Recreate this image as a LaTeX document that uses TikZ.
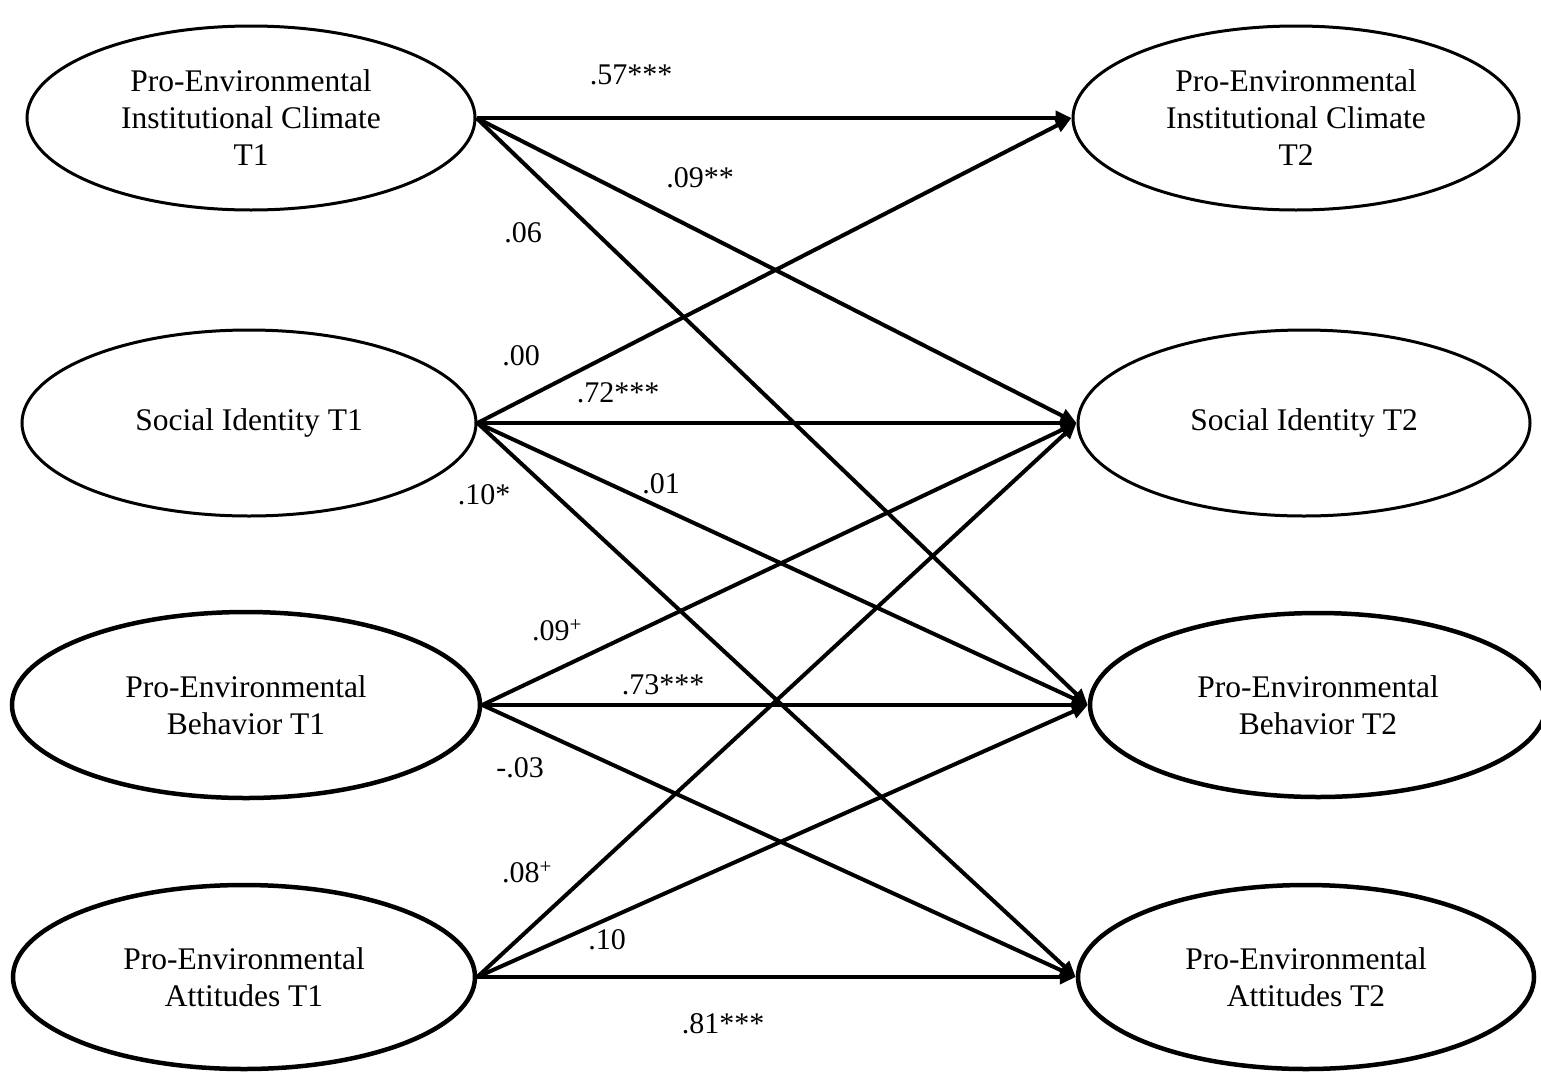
\documentclass[tikz,border=0pt]{standalone}
\usepackage{fontspec}
\setmainfont{Liberation Serif}
\usetikzlibrary{shapes.geometric,arrows.meta}
\begin{document}
\begin{tikzpicture}[x=1pt,y=-1pt,
  latA/.style={ellipse, draw, line width=3pt, inner sep=0pt, align=center,
    font=\fontsize{31.5}{37}\selectfont},
  latB/.style={latA, line width=4.5pt},
  path/.style={line width=4pt, -{Triangle[length=16pt,width=14pt]}},
  coef/.style={inner sep=0pt, font=\fontsize{30}{36}\selectfont}]
\useasboundingbox (0,0) rectangle (1541,1071);
% left column
\node[latA, minimum width=448pt, minimum height=184pt] (a1) at (251,118) {Pro-Environmental\\Institutional Climate\\T1};
\node[latA, minimum width=454pt, minimum height=186pt] (a2) at (249,423) {Social Identity T1};
\node[latB, minimum width=468pt, minimum height=186pt] (a3) at (246,705) {Pro-Environmental\\Behavior T1};
\node[latB, minimum width=462pt, minimum height=184pt] (a4) at (244,977) {Pro-Environmental\\Attitudes T1};
% right column
\node[latA, minimum width=446pt, minimum height=184pt] (b1) at (1296,118) {Pro-Environmental\\Institutional Climate\\T2};
\node[latA, minimum width=452pt, minimum height=186pt] (b2) at (1304,423) {Social Identity T2};
\node[latB, minimum width=456pt, minimum height=184pt] (b3) at (1318,705) {Pro-Environmental\\Behavior T2};
\node[latB, minimum width=456pt, minimum height=184pt] (b4) at (1306,977) {Pro-Environmental\\Attitudes T2};
% paths
\draw[path] (a1.east) -- (b1.west);
\draw[path] (a1.east) -- (b2.west);
\draw[path] (a1.east) -- (b3.west);
\draw[path] (a2.east) -- (b1.west);
\draw[path] (a2.east) -- (b2.west);
\draw[path] (a2.east) -- (b3.west);
\draw[path] (a2.east) -- (b4.west);
\draw[path] (a3.east) -- (b2.west);
\draw[path] (a3.east) -- (b3.west);
\draw[path] (a3.east) -- (b4.west);
\draw[path] (a4.east) -- (b2.west);
\draw[path] (a4.east) -- (b3.west);
\draw[path] (a4.east) -- (b4.west);
% coefficients
\node[coef] (c1) at (631,75) {.57***};
\node[coef] (c2) at (700,178) {.09**};
\node[coef] (c3) at (523,233) {.06};
\node[coef] (c4) at (521,356) {.00};
\node[coef] (c5) at (618,393) {.72***};
\node[coef] (c6) at (661,484) {.01};
\node[coef] (c7) at (484,495) {.10*};
\node[coef] (c8) at (557,630) {.09\textsuperscript{+}};
\node[coef] (c9) at (663,685) {.73***};
\node[coef] (c10) at (520,768) {-.03};
\node[coef] (c11) at (527,872) {.08\textsuperscript{+}};
\node[coef] (c12) at (607,940) {.10};
\node[coef] (c13) at (723,1024) {.81***};
\end{tikzpicture}
\end{document}
